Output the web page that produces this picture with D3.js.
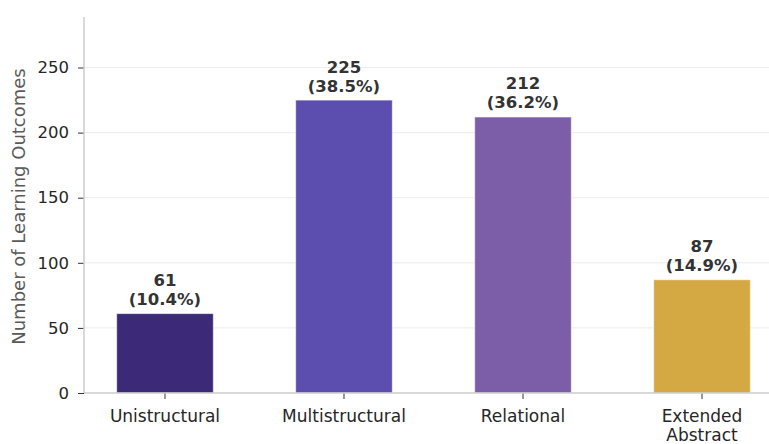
<!DOCTYPE html>
<html>
<head>
<meta charset="utf-8">
<script src="https://cdn.jsdelivr.net/npm/d3@7"></script>
<style>
  html, body { margin: 0; padding: 0; background: #fff; }
  svg { display: block; }
  svg text { font-family: "DejaVu Sans", sans-serif; }
</style>
</head>
<body>
<svg id="chart" width="769" height="444"></svg>
<script>
// SOLO levels of learning outcomes
const categories = ["Unistructural", "Multistructural", "Relational", "Extended Abstract"];
const counts = [61, 225, 212, 87];
const percents = ["10.4%", "38.5%", "36.2%", "14.9%"];
const colors = ["#3c2a78", "#5b4eae", "#7b5ea7", "#d4a843"];
const yTicks = [0, 50, 100, 150, 200, 250];

const svg = d3.select("#chart");
const margin = { left: 84, top: 17, bottom: 393 };
const plotRight = 783;

// continuous x scale over category index (bar width ~0.55 of a slot)
const x = d3.scaleLinear().domain([-0.4525, 3.4525]).range([margin.left, plotRight]);
const y = d3.scaleLinear().domain([0, 288.8]).range([margin.bottom, margin.top]);
const barW = 0.54;

// grid lines
svg.append("g")
  .selectAll("line")
  .data(yTicks.slice(1))
  .join("line")
  .attr("x1", margin.left).attr("x2", plotRight)
  .attr("y1", d => y(d)).attr("y2", d => y(d))
  .attr("stroke", "#ececec").attr("stroke-width", 1);

// bars
svg.append("g")
  .selectAll("rect")
  .data(counts)
  .join("rect")
  .attr("x", (d, i) => x(i - barW / 2))
  .attr("width", x(barW) - x(0))
  .attr("y", d => y(d))
  .attr("height", d => y(0) - y(d))
  .attr("fill", (d, i) => colors[i])
  .attr("stroke", "#ffffff")
  .attr("stroke-opacity", 0.6)
  .attr("stroke-width", 1);

// value labels (count and share)
const labels = svg.append("g")
  .selectAll("text")
  .data(counts)
  .join("text")
  .attr("text-anchor", "middle")
  .attr("font-size", 16.5)
  .attr("font-weight", "bold")
  .attr("fill", "#333");
labels.append("tspan")
  .attr("x", (d, i) => x(i))
  .attr("y", d => y(d) - 27.5)
  .text(d => d);
labels.append("tspan")
  .attr("x", (d, i) => x(i))
  .attr("y", d => y(d) - 8.5)
  .text((d, i) => `(${percents[i]})`);

// y axis
const yAxis = d3.axisLeft(y).tickValues(yTicks).tickSize(6).tickPadding(9);
const gy = svg.append("g").attr("transform", `translate(${margin.left},0)`).call(yAxis);
gy.attr("font-family", null).attr("font-size", null);
gy.select(".domain").remove();
gy.selectAll(".tick line").attr("stroke", "#333");
gy.selectAll(".tick text").attr("font-size", 16.5).attr("fill", "#262626");

// x axis ticks and labels
const gx = svg.append("g").attr("transform", `translate(0,${margin.bottom})`);
categories.forEach((c, i) => {
  gx.append("line")
    .attr("x1", x(i)).attr("x2", x(i))
    .attr("y1", 0).attr("y2", 6)
    .attr("stroke", "#333");
  const words = c === "Extended Abstract" ? ["Extended", "Abstract"] : [c];
  const t = gx.append("text")
    .attr("text-anchor", "middle")
    .attr("font-size", 17)
    .attr("fill", "#262626");
  words.forEach((w, k) => {
    t.append("tspan").attr("x", x(i)).attr("y", 28.5 + k * 19.5).text(w);
  });
});

// spines
svg.append("line")
  .attr("x1", margin.left).attr("x2", margin.left)
  .attr("y1", margin.top).attr("y2", margin.bottom)
  .attr("stroke", "#cccccc").attr("stroke-width", 1.5);
svg.append("line")
  .attr("x1", margin.left).attr("x2", plotRight)
  .attr("y1", margin.bottom).attr("y2", margin.bottom)
  .attr("stroke", "#cccccc").attr("stroke-width", 1.5);

// y axis title
svg.append("text")
  .attr("transform", `translate(25,206.5) rotate(-90)`)
  .attr("text-anchor", "middle")
  .attr("font-size", 18)
  .attr("fill", "#5a5a5a")
  .text("Number of Learning Outcomes");
</script>
</body>
</html>
